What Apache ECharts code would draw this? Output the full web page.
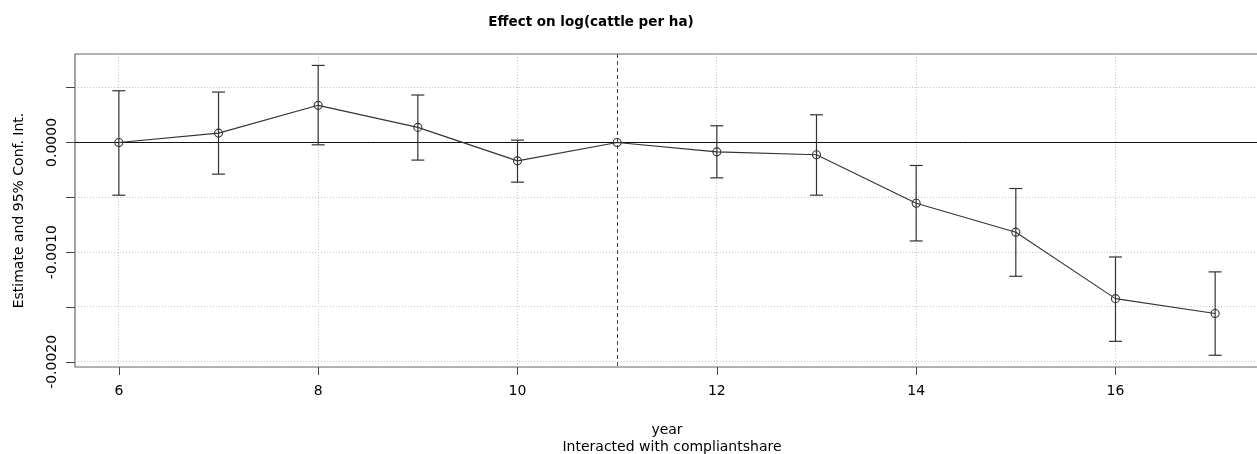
<!DOCTYPE html>
<html>
<head>
<meta charset="utf-8">
<script src="https://cdn.jsdelivr.net/npm/echarts@6/dist/echarts.min.js"></script>
<style>
  html, body { margin: 0; padding: 0; background: #fff; }
  #chart { width: 1257px; height: 454px; }
</style>
</head>
<body>
<div id="chart"></div>
<script>
// Event-study coefficients by year (year 11 is the reference period)
const years     = [6, 7, 8, 9, 10, 11, 12, 13, 14, 15, 16, 17];
const estimate  = [0, 0.000085, 0.000338, 0.000137, -0.000168, 0, -0.000086, -0.000113, -0.000554, -0.000818, -0.001424, -0.00156];
const ciLow     = [-0.000481, -0.000289, -0.000022, -0.000161, -0.000362, null, -0.000323, -0.000481, -0.000898, -0.00122, -0.001813, -0.00194];
const ciHigh    = [0.000471, 0.000459, 0.000702, 0.000432, 0.000021, null, 0.000152, 0.000252, -0.00021, -0.00042, -0.001044, -0.00118];
const xTicks    = [6, 8, 10, 12, 14, 16];
const yTicks    = [-0.002, -0.0015, -0.001, -0.0005, 0, 0.0005];
const yLabels   = [-0.002, -0.001, 0];
const refYear   = 11;

const FONT = 'DejaVu Sans';
const INK = '#333';

const pointData = years.map((y, i) => [y, estimate[i]]);
const barData = years.map((y, i) => [y, ciLow[i], ciHigh[i]]).filter(d => d[1] !== null);

// snap a 1px line to the pixel grid
const crisp = v => Math.round(v - 0.5) + 0.5;

const chart = echarts.init(document.getElementById('chart'), null, { renderer: 'canvas' });
chart.setOption({
  animation: false,
  backgroundColor: '#fff',
  textStyle: { fontFamily: FONT },
  title: [
    {
      text: 'Effect on log(cattle per ha)',
      left: 586, top: 10, textAlign: 'center',
      textStyle: { fontFamily: FONT, fontWeight: 'bold', fontSize: 13.5, color: '#000' }
    },
    {
      text: 'Interacted with compliantshare',
      left: 667, top: 435, textAlign: 'center',
      textStyle: { fontFamily: FONT, fontWeight: 'normal', fontSize: 14, color: '#000' }
    }
  ],
  grid: {
    left: 75, top: 54, right: -2, bottom: 87,
    outerBoundsMode: 'none',
    containLabel: false,
    show: true, borderColor: '#666', borderWidth: 1.2, backgroundColor: 'transparent'
  },
  xAxis: {
    type: 'value',
    min: 5.56, max: 17.44,
    name: 'year',
    nameLocation: 'middle',
    nameGap: 56,
    nameTextStyle: { fontFamily: FONT, fontSize: 14, color: '#000' },
    axisLine: { show: false, onZero: false },
    splitLine: { show: false },
    axisTick: { show: true, length: 8, lineStyle: { color: '#444', width: 1 }, customValues: xTicks },
    axisLabel: { fontFamily: FONT, fontSize: 14, color: '#000', margin: 17, customValues: xTicks }
  },
  yAxis: {
    type: 'value',
    min: -0.002047, max: 0.000806,
    name: 'Estimate and 95% Conf. Int.',
    nameLocation: 'middle',
    nameRotate: 90,
    nameGap: 49,
    nameTextStyle: { fontFamily: FONT, fontSize: 14, color: '#000' },
    axisLine: { show: false, onZero: false },
    splitLine: { show: false },
    axisTick: { show: true, length: 9, lineStyle: { color: '#444', width: 1 }, customValues: yTicks },
    axisLabel: {
      fontFamily: FONT, fontSize: 14, color: '#000', rotate: 90, margin: 16,
      customValues: yLabels,
      formatter: v => v.toFixed(4)
    }
  },
  series: [
    {
      // dotted grid at the tick positions, zero line and reference-period marker
      type: 'custom',
      data: [[0]],
      silent: true,
      z: 1,
      renderItem: (params, api) => {
        const cs = params.coordSys;
        const x0 = cs.x, x1 = cs.x + cs.width, y0 = cs.y, y1 = cs.y + cs.height;
        const dotted = { stroke: '#c4c4c4', lineWidth: 1, lineDash: [1, 2], fill: null };
        const children = [];
        xTicks.forEach(v => {
          const px = crisp(api.coord([v, 0])[0]);
          children.push({ type: 'line', shape: { x1: px, y1: y0, x2: px, y2: y1 }, style: dotted });
        });
        yTicks.forEach(v => {
          const py = crisp(api.coord([6, v])[1]);
          children.push({ type: 'line', shape: { x1: x0, y1: py, x2: x1, y2: py }, style: dotted });
        });
        const zy = crisp(api.coord([6, 0])[1]);
        children.push({ type: 'line', shape: { x1: x0, y1: zy, x2: x1, y2: zy },
          style: { stroke: '#111', lineWidth: 1, fill: null } });
        const rx = crisp(api.coord([refYear, 0])[0]);
        children.push({ type: 'line', shape: { x1: rx, y1: y0, x2: rx, y2: y1 },
          style: { stroke: '#444', lineWidth: 1, lineDash: [4, 3], fill: null } });
        return { type: 'group', children };
      }
    },
    {
      // 95% confidence intervals with caps
      type: 'custom',
      data: barData,
      silent: true,
      z: 2,
      renderItem: (params, api) => {
        const x = api.value(0);
        const lo = api.coord([x, api.value(1)]);
        const hi = api.coord([x, api.value(2)]);
        const w = 6.5;
        const style = { stroke: INK, lineWidth: 1.2, fill: null };
        return {
          type: 'group',
          children: [
            { type: 'line', shape: { x1: lo[0], y1: lo[1], x2: hi[0], y2: hi[1] }, style },
            { type: 'line', shape: { x1: lo[0] - w, y1: lo[1], x2: lo[0] + w, y2: lo[1] }, style },
            { type: 'line', shape: { x1: hi[0] - w, y1: hi[1], x2: hi[0] + w, y2: hi[1] }, style }
          ]
        };
      }
    },
    {
      // point estimates
      type: 'line',
      data: pointData,
      silent: true,
      z: 3,
      symbol: 'circle',
      symbolSize: 8,
      lineStyle: { color: INK, width: 1.1 },
      itemStyle: { color: 'rgba(0,0,0,0)', borderColor: '#333', borderWidth: 1.1 }
    }
  ]
});
</script>
</body>
</html>
